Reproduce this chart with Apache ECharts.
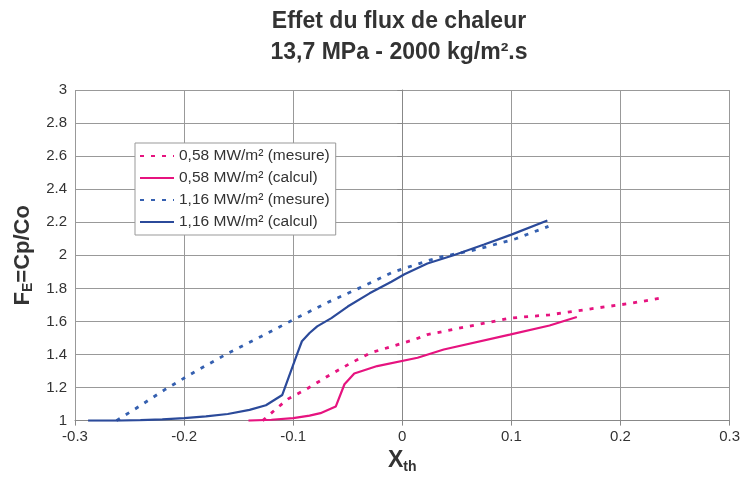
<!DOCTYPE html>
<html><head><meta charset="utf-8">
<script src="https://cdn.jsdelivr.net/npm/echarts@6/dist/echarts.min.js"></script>
<style>html,body{margin:0;padding:0;background:#fff}#c{width:743px;height:479px}</style>
</head><body><div id="c"></div>
<script>
var xTicks = [-0.3, -0.2, -0.1, 0, 0.1, 0.2, 0.3];
var yTicks = [1, 1.2, 1.4, 1.6, 1.8, 2, 2.2, 2.4, 2.6, 2.8, 3];
var seriesNames = ['0,58 MW/m² (mesure)', '0,58 MW/m² (calcul)', '1,16 MW/m² (mesure)', '1,16 MW/m² (calcul)'];
var pinkMesure = [[-0.128,1.0],[-0.114,1.08],[-0.105,1.13],[-0.088,1.19],[-0.068,1.27],[-0.048,1.345],[-0.029,1.41],[-0.009,1.45],[0.011,1.49],[0.023,1.52],[0.068,1.58],[0.099,1.62],[0.135,1.64],[0.177,1.68],[0.21,1.71],[0.24,1.745]];
var pinkCalcul = [[-0.141,1.0],[-0.12,1.005],[-0.1,1.015],[-0.085,1.03],[-0.075,1.045],[-0.061,1.085],[-0.053,1.22],[-0.044,1.285],[-0.023,1.33],[0.014,1.38],[0.038,1.43],[0.0985,1.52],[0.135,1.575],[0.16,1.627]];
var blueMesure = [[-0.262,1.0],[-0.245,1.07],[-0.217,1.19],[-0.189,1.3],[-0.159,1.41],[-0.129,1.51],[-0.1,1.61],[-0.07,1.71],[-0.04,1.8],[-0.008,1.9],[0.032,1.985],[0.068,2.035],[0.104,2.1],[0.134,2.175]];
var blueCalcul = [[-0.288,1.0],[-0.26,1.0],[-0.24,1.003],[-0.22,1.008],[-0.2,1.015],[-0.18,1.025],[-0.16,1.04],[-0.14,1.065],[-0.125,1.093],[-0.11,1.155],[-0.096,1.41],[-0.092,1.48],[-0.085,1.53],[-0.078,1.57],[-0.065,1.62],[-0.05,1.69],[-0.03,1.77],[-0.01,1.84],[0.002,1.885],[0.023,1.95],[0.047,2.0],[0.075,2.065],[0.1,2.125],[0.133,2.21]];

var PINK = '#e6137f', BLUE = '#2b4a9a', BLUE_D = '#3560b0';
var FONT = 'Liberation Sans';
var chart = echarts.init(document.getElementById('c'));
function mk(name, data, color, dotted) {
  return {
    name: name, type: 'line', data: data, symbol: 'none', smooth: false,
    lineStyle: { color: color, width: dotted ? 2.8 : 2.2, type: dotted ? [4, 7] : 'solid' },
    itemStyle: { color: color }
  };
}
chart.setOption({
  backgroundColor: '#fff',
  animation: false,
  title: {
    text: 'Effet du flux de chaleur\n13,7 MPa - 2000 kg/m².s',
    left: 394, top: 1, textAlign: 'center',
    textStyle: { fontFamily: FONT, fontSize: 23, fontWeight: 'bold', color: '#333', lineHeight: 31 }
  },
  grid: { left: 75, right: 7, top: 90, bottom: 54, containLabel: false },
  legend: {
    orient: 'vertical', left: 135, top: 143,
    data: seriesNames,
    backgroundColor: '#fff', borderColor: '#999', borderWidth: 1,
    padding: [5, 6, 5, 4], itemGap: 6, itemWidth: 34, itemHeight: 15,
    itemStyle: { opacity: 0 },
    textStyle: { fontFamily: FONT, fontSize: 15.5, color: '#333' }
  },
  xAxis: {
    type: 'value', min: xTicks[0], max: xTicks[xTicks.length - 1], interval: 0.1,
    name: '{b|X}{s|th}', nameLocation: 'middle', nameGap: 24,
    nameTextStyle: { rich: {
      b: { fontFamily: FONT, fontSize: 23, fontWeight: 'bold', color: '#333' },
      s: { fontFamily: FONT, fontSize: 14, fontWeight: 'bold', color: '#333', verticalAlign: 'bottom', padding: [12, 0, 0, 0] }
    } },
    axisLine: { show: true, lineStyle: { color: '#888', width: 1 } },
    axisTick: { show: true, length: 5, lineStyle: { color: '#888' } },
    axisLabel: { fontFamily: FONT, fontSize: 15, color: '#333', margin: 9,
      formatter: function (v) { var r = Math.round(v * 10) / 10; return xTicks.indexOf(r) >= 0 ? String(r) : ''; } },
    splitLine: { show: true, lineStyle: { color: '#999', width: 1 } }
  },
  yAxis: {
    type: 'value', min: 1, max: 3, interval: 0.2,
    name: '{b|F}{s|E}{b|=Cp/Co}', nameLocation: 'middle', nameGap: 37, nameRotate: 90,
    nameTextStyle: { rich: {
      b: { fontFamily: FONT, fontSize: 22, fontWeight: 'bold', color: '#333' },
      s: { fontFamily: FONT, fontSize: 14, fontWeight: 'bold', color: '#333', verticalAlign: 'bottom', padding: [10, 0, 0, 0] }
    } },
    axisLine: { show: true, lineStyle: { color: '#888', width: 1 } },
    axisTick: { show: true, length: 5, lineStyle: { color: '#888' } },
    axisLabel: { fontFamily: FONT, fontSize: 15, color: '#333', margin: 8,
      formatter: function (v) { var r = Math.round(v * 10) / 10; return yTicks.indexOf(r) >= 0 ? String(r) : ''; } },
    splitLine: { show: true, lineStyle: { color: '#999', width: 1 } }
  },
  series: [
    mk(seriesNames[0], pinkMesure, PINK, true),
    mk(seriesNames[1], pinkCalcul, PINK, false),
    mk(seriesNames[2], blueMesure, BLUE_D, true),
    mk(seriesNames[3], blueCalcul, BLUE, false)
  ]
});
</script></body></html>
